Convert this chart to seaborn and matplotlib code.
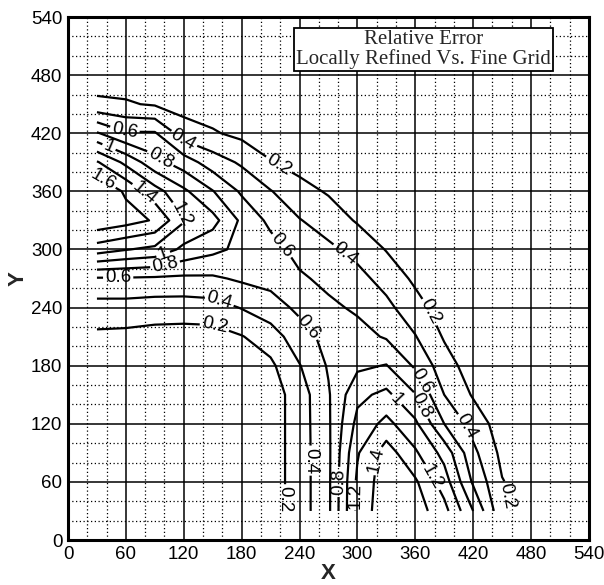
import numpy as np
import matplotlib
matplotlib.use("Agg")
import matplotlib.pyplot as plt
import seaborn as sns

# Sample locations of the error field
x_nodes = [30, 60, 90, 120, 150, 180, 210, 240, 270, 300, 330, 360, 390, 420, 450, 480]
y_nodes = [30, 60, 90, 120, 150, 180, 210, 240, 270, 300, 330, 360, 390, 420, 450, 480]

# Relative error, one row per y node (bottom to top), columns follow x_nodes
err_y030 = [0.08, 0.08, 0.08, 0.08, 0.08, 0.09, 0.10, 0.30, 0.56, 1.25, 1.55, 1.50, 1.27, 0.80, 0.24, 0.10]
err_y060 = [0.08, 0.08, 0.08, 0.08, 0.08, 0.09, 0.10, 0.30, 0.56, 1.24, 1.52, 1.43, 1.10, 0.57, 0.21, 0.10]
err_y090 = [0.08, 0.08, 0.08, 0.08, 0.09, 0.09, 0.10, 0.30, 0.56, 1.18, 1.50, 1.23, 0.93, 0.45, 0.15, 0.10]
err_y120 = [0.09, 0.09, 0.09, 0.09, 0.09, 0.10, 0.10, 0.30, 0.57, 1.06, 1.26, 1.04, 0.60, 0.32, 0.10, 0.10]
err_y150 = [0.10, 0.10, 0.10, 0.10, 0.10, 0.10, 0.10, 0.30, 0.58, 0.95, 1.05, 0.81, 0.40, 0.18, 0.10, 0.10]
err_y180 = [0.12, 0.12, 0.11, 0.11, 0.10, 0.10, 0.16, 0.39, 0.62, 0.76, 0.81, 0.57, 0.29, 0.10, 0.10, 0.10]
err_y210 = [0.16, 0.15, 0.13, 0.12, 0.12, 0.19, 0.30, 0.52, 0.66, 0.67, 0.58, 0.41, 0.18, 0.10, 0.10, 0.10]
err_y240 = [0.32, 0.32, 0.30, 0.30, 0.32, 0.41, 0.52, 0.64, 0.64, 0.57, 0.45, 0.28, 0.10, 0.10, 0.10, 0.10]
err_y270 = [0.58, 0.58, 0.57, 0.56, 0.57, 0.63, 0.66, 0.63, 0.55, 0.46, 0.33, 0.16, 0.10, 0.10, 0.10, 0.10]
err_y300 = [1.30, 1.21, 1.15, 0.95, 0.85, 0.75, 0.68, 0.53, 0.44, 0.34, 0.19, 0.10, 0.10, 0.10, 0.10, 0.10]
err_y330 = [1.75, 1.68, 1.58, 1.22, 1.07, 0.76, 0.55, 0.41, 0.31, 0.18, 0.10, 0.10, 0.10, 0.10, 0.10, 0.10]
err_y360 = [1.78, 1.57, 1.28, 1.04, 0.81, 0.57, 0.41, 0.27, 0.18, 0.10, 0.10, 0.10, 0.10, 0.10, 0.10, 0.10]
err_y390 = [1.42, 1.15, 0.87, 0.70, 0.50, 0.37, 0.21, 0.13, 0.10, 0.10, 0.10, 0.10, 0.10, 0.10, 0.10, 0.10]
err_y420 = [0.82, 0.62, 0.62, 0.30, 0.22, 0.15, 0.10, 0.10, 0.10, 0.10, 0.10, 0.10, 0.10, 0.10, 0.10, 0.10]
err_y450 = [0.24, 0.22, 0.18, 0.12, 0.10, 0.10, 0.10, 0.10, 0.10, 0.10, 0.10, 0.10, 0.10, 0.10, 0.10, 0.10]
err_y480 = [0.10, 0.10, 0.10, 0.10, 0.10, 0.10, 0.10, 0.10, 0.10, 0.10, 0.10, 0.10, 0.10, 0.10, 0.10, 0.10]

levels = [0.2, 0.4, 0.6, 0.8, 1.0, 1.2, 1.4, 1.6]
ticks = [0, 60, 120, 180, 240, 300, 360, 420, 480, 540]

# Where the level labels sit along the lines
label_spots = [
    (59, 423), (122, 416), (220, 390), (43, 407), (95, 393), (38, 375),
    (77, 356), (119, 337), (223, 305), (287, 295), (372, 234),
    (97, 300), (100, 287), (52, 271), (157, 247), (152, 221),
    (250, 220), (366, 164), (370, 141), (344, 148), (413, 117),
    (453, 45), (379, 66), (313, 83), (297, 46), (280, 60), (256, 82), (225, 42),
]

sns.set_theme(style="white")
plt.rcParams["font.family"] = ["Liberation Sans", "DejaVu Sans"]

err = np.array([err_y030, err_y060, err_y090, err_y120, err_y150, err_y180,
                err_y210, err_y240, err_y270, err_y300, err_y330, err_y360,
                err_y390, err_y420, err_y450, err_y480])
X, Y = np.meshgrid(x_nodes, y_nodes)

fig = plt.figure(figsize=(6.04, 5.85), dpi=100)
ax = fig.add_axes([0.1126, 0.0769, 0.8624, 0.894])

# background grid: solid every 60, dotted every 20
ax.set_xlim(0, 540)
ax.set_ylim(0, 540)
ax.set_xticks(ticks)
ax.set_yticks(ticks)
ax.set_xticks(np.arange(0, 541, 20), minor=True)
ax.set_yticks(np.arange(0, 541, 20), minor=True)
ax.grid(which="major", color="black", linewidth=1.1, linestyle="-")
ax.grid(which="minor", color="black", linewidth=0.9, linestyle=(0, (1, 2)))
ax.set_axisbelow(True)

cs = ax.contour(X, Y, err, levels=levels, colors="black", linewidths=1.6)
ax.clabel(cs, levels=levels, manual=label_spots, inline=True, inline_spacing=2,
          fmt="%g", fontsize=13.5)

for s in ax.spines.values():
    s.set_linewidth(2.2)
    s.set_color("black")

ax.tick_params(which="major", direction="in", length=8, width=2, labelsize=13.5,
               colors="black", top=False, right=False, pad=4)
ax.tick_params(which="minor", direction="in", length=4, width=1.2,
               top=False, right=False)

ax.set_xlabel("X", fontsize=16, fontweight="bold", labelpad=0)
ax.set_ylabel("Y", fontsize=16, fontweight="bold", labelpad=2)

ax.text(0.683, 0.938, "Relative Error\nLocally Refined Vs. Fine Grid",
        transform=ax.transAxes, ha="center", va="center", multialignment="center",
        fontsize=15, family="Liberation Serif", linespacing=1.0,
        bbox=dict(boxstyle="square,pad=0.1", facecolor="white", edgecolor="black",
                  linewidth=1.3), zorder=5)

fig.savefig("out.png", dpi=100)
